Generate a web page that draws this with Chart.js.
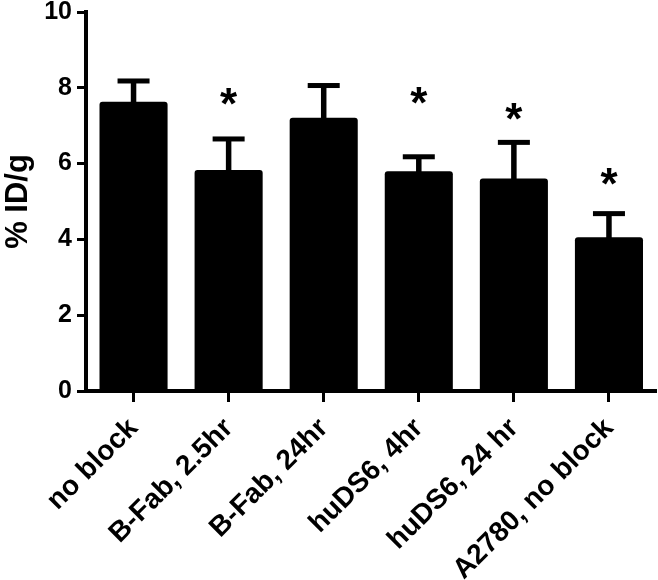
<!DOCTYPE html>
<html lang="en">
<head>
  <meta charset="UTF-8" />
  <title>% ID/g by blocking condition</title>
  <script src="https://cdn.jsdelivr.net/npm/chart.js"></script>
  <style>
    body {
      margin: 0;
      background: #ffffff;
    }

    .wrap {
      width: 658px;
      height: 580px;
      position: relative;
    }
  </style>
</head>
<body>
  <div class="wrap">
    <canvas id="uptakeChart"></canvas>
  </div>

  <script>
    // values
    const categories = ['no block', 'B-Fab, 2.5hr', 'B-Fab, 24hr', 'huDS6, 4hr', 'huDS6, 24 hr', 'A2780, no block'];
    const means = [7.63, 5.83, 7.21, 5.80, 5.61, 4.06];
    const errors = [0.55, 0.82, 0.85, 0.38, 0.95, 0.62];
    const starLevels = [null, 7.78, null, 7.79, 7.38, 5.67];
    const yTicks = [0, 2, 4, 6, 8, 10];

    const FONT = "'Liberation Sans', Arial, sans-serif";

    // upper error bars (cap + stem)
    const errorBars = {
      id: 'errorBars',
      afterDatasetsDraw(chart) {
        const ctx = chart.ctx;
        const y = chart.scales.y;
        const bars = chart.getDatasetMeta(0).data;
        ctx.save();
        ctx.fillStyle = '#000';
        bars.forEach((bar, i) => {
          const top = y.getPixelForValue(means[i] + errors[i]);
          const base = y.getPixelForValue(means[i]);
          ctx.fillRect(bar.x - 2.75, top, 5.5, base - top + 2);
          ctx.fillRect(bar.x - 16, top - 2.5, 32, 5);
        });
        ctx.restore();
      }
    };

    // significance asterisks
    const stars = {
      id: 'stars',
      afterDatasetsDraw(chart) {
        const ctx = chart.ctx;
        const y = chart.scales.y;
        const bars = chart.getDatasetMeta(0).data;
        ctx.save();
        ctx.fillStyle = '#000';
        ctx.font = 'bold 44px ' + FONT;
        ctx.textAlign = 'center';
        ctx.textBaseline = 'alphabetic';
        const m = ctx.measureText('*');
        const mid = (m.actualBoundingBoxAscent - m.actualBoundingBoxDescent) / 2;
        bars.forEach((bar, i) => {
          if (starLevels[i] === null) return;
          ctx.fillText('*', bar.x, y.getPixelForValue(starLevels[i]) + mid);
        });
        ctx.restore();
      }
    };

    const ctx = document.getElementById('uptakeChart').getContext('2d');
    new Chart(ctx, {
      type: 'bar',
      data: {
        labels: categories,
        datasets: [{
          data: means,
          backgroundColor: '#000',
          borderWidth: 0,
          borderRadius: 3,
          borderSkipped: 'bottom',
          barPercentage: 0.716,
          categoryPercentage: 1
        }]
      },
      options: {
        responsive: true,
        maintainAspectRatio: false,
        animation: false,
        layout: { padding: { top: 1, right: 1.5, left: 0, bottom: 0 } },
        plugins: {
          legend: { display: false },
          tooltip: { enabled: false }
        },
        scales: {
          x: {
            offset: true,
            grid: {
              offset: false,
              drawOnChartArea: false,
              drawTicks: true,
              tickLength: 11,
              tickWidth: 3,
              tickColor: '#000'
            },
            border: { display: true, width: 4, color: '#000' },
            ticks: {
              color: '#000',
              font: { family: FONT, size: 28, weight: 'bold' },
              minRotation: 45,
              maxRotation: 45,
              padding: 10
            },
            afterFit(scale) { scale.height = 189; }
          },
          y: {
            min: 0,
            max: 10,
            afterBuildTicks(scale) {
              scale.ticks = yTicks.map(v => ({ value: v }));
            },
            grid: {
              drawOnChartArea: false,
              drawTicks: true,
              tickLength: 9,
              tickWidth: 3,
              tickColor: '#000'
            },
            border: { display: true, width: 4, color: '#000' },
            ticks: {
              color: '#000',
              font: { family: FONT, size: 25, weight: 'bold' },
              padding: 5
            },
            title: {
              display: true,
              text: '% ID/g',
              color: '#000',
              font: { family: FONT, size: 31, weight: 'bold' },
              padding: { top: 0, bottom: 2 }
            },
            afterFit(scale) {
              scale.width = 86;
              scale.paddingTop = 12;
            }
          }
        }
      },
      plugins: [errorBars, stars]
    });
  </script>
</body>
</html>
